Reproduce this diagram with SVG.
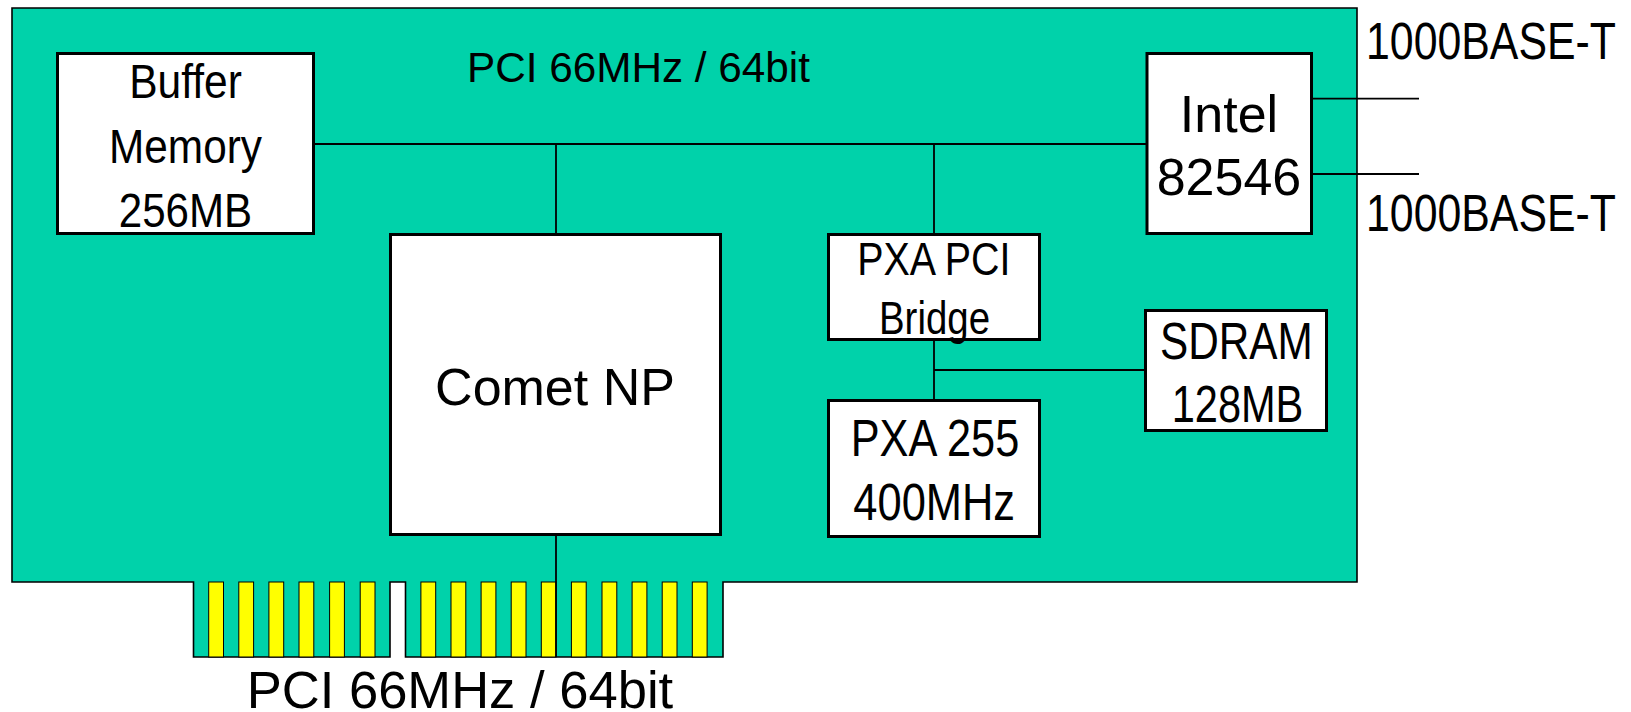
<svg xmlns="http://www.w3.org/2000/svg" width="1631" height="712" viewBox="0 0 1631 712">
<style>
.board{fill:#00D2AA;stroke:#000;stroke-width:1.6}
.box{fill:#fff;stroke:#000;stroke-width:3}
.pin{fill:#FFFF00;stroke:#000;stroke-width:1}
.wire{fill:none;stroke:#000;stroke-width:1.8}
text{font-family:"Liberation Sans",Arial,sans-serif;fill:#000}
.c{text-anchor:middle}
</style>
<rect width="1631" height="712" fill="#fff"/>
<g id="board">
<path class="board" d="M12,8 H1357 V582 H723 V657 H405.5 V582 H390 V657 H193.5 V582 H12 Z"/>
<g id="fingers">
<rect class="pin" x="208.7" y="582" width="14.8" height="75"/>
<rect class="pin" x="238.8" y="582" width="14.8" height="75"/>
<rect class="pin" x="268.9" y="582" width="14.8" height="75"/>
<rect class="pin" x="299" y="582" width="14.8" height="75"/>
<rect class="pin" x="329.6" y="582" width="14.8" height="75"/>
<rect class="pin" x="360.2" y="582" width="14.8" height="75"/>
<rect class="pin" x="420.9" y="582" width="14.8" height="75"/>
<rect class="pin" x="451" y="582" width="14.8" height="75"/>
<rect class="pin" x="481.1" y="582" width="14.8" height="75"/>
<rect class="pin" x="511.2" y="582" width="14.8" height="75"/>
<rect class="pin" x="541.3" y="582" width="14.8" height="75"/>
<rect class="pin" x="571.4" y="582" width="14.8" height="75"/>
<rect class="pin" x="602" y="582" width="14.8" height="75"/>
<rect class="pin" x="632.1" y="582" width="14.8" height="75"/>
<rect class="pin" x="662.2" y="582" width="14.8" height="75"/>
<rect class="pin" x="692.3" y="582" width="14.8" height="75"/>
</g>
<text x="467" y="82.3" font-size="42" textLength="343" lengthAdjust="spacingAndGlyphs">PCI 66MHz / 64bit</text>
<text x="246.7" y="708" font-size="51" textLength="426.5" lengthAdjust="spacingAndGlyphs">PCI 66MHz / 64bit</text>
</g>
<g id="connectors">
<line class="wire" x1="315" y1="144" x2="1146" y2="144"/>
<line class="wire" x1="556" y1="144" x2="556" y2="234"/>
<line class="wire" x1="556" y1="536" x2="556" y2="657"/>
<line class="wire" x1="934" y1="144" x2="934" y2="234"/>
<line class="wire" x1="934" y1="340" x2="934" y2="400"/>
<line class="wire" x1="934" y1="370" x2="1145" y2="370"/>
<line class="wire" x1="1312" y1="98.7" x2="1419" y2="98.7"/>
<line class="wire" x1="1312" y1="174" x2="1419" y2="174"/>
</g>
<g id="buffer">
<rect class="box" x="57.5" y="53.5" width="256" height="180"/>
<text class="c" x="185.5" y="98.3" font-size="49" textLength="112.7" lengthAdjust="spacingAndGlyphs">Buffer</text>
<text class="c" x="185.5" y="163.3" font-size="49" textLength="153" lengthAdjust="spacingAndGlyphs">Memory</text>
<text class="c" x="185.5" y="226.7" font-size="49" textLength="133.4" lengthAdjust="spacingAndGlyphs">256MB</text>
</g>
<g id="intel">
<rect class="box" x="1147" y="53.5" width="164.5" height="180"/>
<text class="c" x="1229" y="131.7" font-size="52">Intel</text>
<text class="c" x="1229" y="195" font-size="52">82546</text>
</g>
<g id="comet">
<rect class="box" x="390.5" y="234.5" width="330" height="300"/>
<text class="c" x="555" y="405" font-size="52">Comet NP</text>
</g>
<g id="pxapci">
<rect class="box" x="828.5" y="234.5" width="211" height="105"/>
<text class="c" x="933.8" y="275.3" font-size="46" textLength="153.3" lengthAdjust="spacingAndGlyphs">PXA PCI</text>
<text class="c" x="934.5" y="334.3" font-size="46" textLength="111" lengthAdjust="spacingAndGlyphs">Bridge</text>
</g>
<g id="pxa255">
<rect class="box" x="828.5" y="400.5" width="211" height="136"/>
<text class="c" x="935" y="456" font-size="51" textLength="168.6" lengthAdjust="spacingAndGlyphs">PXA 255</text>
<text class="c" x="934.2" y="520" font-size="51" textLength="161.7" lengthAdjust="spacingAndGlyphs">400MHz</text>
</g>
<g id="sdram">
<rect class="box" x="1145.5" y="310.5" width="181" height="120"/>
<text class="c" x="1236.4" y="359" font-size="51" textLength="152.7" lengthAdjust="spacingAndGlyphs">SDRAM</text>
<text class="c" x="1237.5" y="421.7" font-size="51" textLength="131.7" lengthAdjust="spacingAndGlyphs">128MB</text>
</g>
<g id="ports">
<text x="1366" y="59.3" font-size="52" textLength="250" lengthAdjust="spacingAndGlyphs">1000BASE-T</text>
<text x="1366" y="230.7" font-size="52" textLength="250" lengthAdjust="spacingAndGlyphs">1000BASE-T</text>
</g>
</svg>
